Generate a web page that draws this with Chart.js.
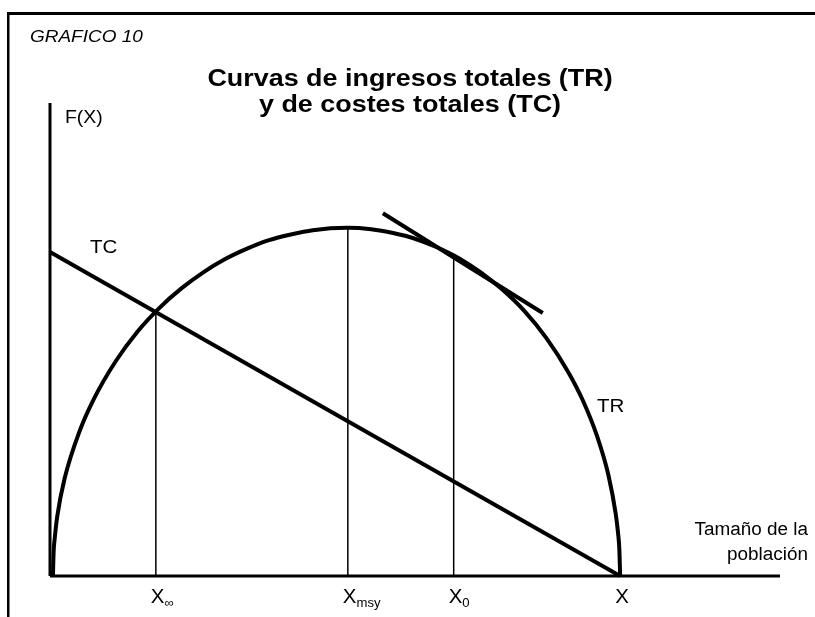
<!DOCTYPE html>
<html>
<head>
<meta charset="utf-8">
<script src="https://cdn.jsdelivr.net/npm/chart.js@4"></script>
<style>
	body { margin: 0; background: #fff; }
	canvas { display: block; }
</style>
</head>
<body>
<canvas id="grafico" width="815" height="617"></canvas>
<script>
// Curva de ingresos totales (TR)
const trX = [0.4, 0.5, 0.65, 1, 2, 4, 6, 9, 12, 15, 18, 21, 24, 27, 30, 33, 36, 40.7, 44, 47, 50, 53, 56, 59, 62, 65, 68, 71, 73, 75, 76.5, 77.5, 77.8, 78.0, 78.1];
const trY = [0, 5.2, 8.0, 12.7, 20.6, 30.4, 37.4, 45.4, 51.7, 56.7, 60.8, 64.2, 67.0, 69.2, 71.0, 72.2, 73.1, 73.6, 73.3, 72.5, 71.3, 69.5, 67.2, 64.2, 60.5, 56.0, 50.3, 43.1, 37.1, 29.3, 21.3, 13.1, 9.3, 5.4, 0];

// Costes totales (TC)
const tcX = [0, 78.1];
const tcY = [68.5, 0];

// tangente en X0
const tanX = [45.6, 67.5];
const tanY = [76.7, 55.6];

// lineas verticales y etiquetas del eje
const xMarks = [14.5, 40.8, 55.3, 78.1];
const xMarkTops = [56.2, 73.6, 67.4, 0];
const xLabels = ["X", "X", "X", "X"];
const xSubs = ["\u221e", "msy", "0", ""];

const fontFam = "'Liberation Sans', Arial, Helvetica, sans-serif";

function toPoints(xs, ys) {
	return xs.map((x, i) => ({ x: x, y: ys[i] }));
}

function stretchText(ctx, text, x, y, font, sx, align) {
	ctx.save();
	ctx.font = font;
	ctx.textBaseline = "alphabetic";
	let w = ctx.measureText(text).width * sx;
	let left = x;
	if (align == "center") left = x - w / 2;
	if (align == "right") left = x - w;
	ctx.translate(left, y);
	ctx.scale(sx, 1);
	ctx.textAlign = "left";
	ctx.fillText(text, 0, 0);
	ctx.restore();
	return w;
}

const textos = {
	id: "textos",
	beforeDraw(chart) {
		const ctx = chart.ctx;
		ctx.save();
		ctx.fillStyle = "#fff";
		ctx.fillRect(0, 0, chart.width, chart.height);
		// marco
		ctx.fillStyle = "#000";
		ctx.fillRect(7, 12, 815, 3);
		ctx.fillRect(7, 12, 2.5, 617);
		ctx.restore();
	},
	afterDraw(chart) {
		const ctx = chart.ctx;
		const xs = chart.scales.x;
		ctx.save();
		ctx.fillStyle = "#000";
		stretchText(ctx, "GRAFICO 10", 30, 42, "italic 16.5px " + fontFam, 1.15, "left");
		stretchText(ctx, "Curvas de ingresos totales (TR)", 410, 86, "bold 23px " + fontFam, 1.17, "center");
		stretchText(ctx, "y de costes totales (TC)", 410, 112, "bold 23px " + fontFam, 1.17, "center");
		stretchText(ctx, "F(X)", 65, 123, "18px " + fontFam, 1.08, "left");
		stretchText(ctx, "TC", 90, 253, "19px " + fontFam, 1.08, "left");
		stretchText(ctx, "TR", 597, 412, "19px " + fontFam, 1.08, "left");
		stretchText(ctx, "Tamaño de la", 808, 535, "18px " + fontFam, 1.05, "right");
		stretchText(ctx, "población", 808, 560, "18px " + fontFam, 1.05, "right");
		xMarks.forEach((v, i) => {
			const px = xs.getPixelForValue(v);
			const w = stretchText(ctx, xLabels[i], px - 5, 603, "19.5px " + fontFam, 1.05, "left");
			if (xSubs[i]) {
				stretchText(ctx, xSubs[i], px - 5 + w, 607, "12.5px " + fontFam, 1.05, "left");
			}
		});
		ctx.restore();
	},
};

const base = { borderColor: "#000", pointRadius: 0, fill: false, clip: false, tension: 0 };

const datasets = [
	Object.assign({}, base, { data: toPoints(trX, trY), borderWidth: 4, cubicInterpolationMode: "monotone" }),
	Object.assign({}, base, { data: toPoints(tcX, tcY), borderWidth: 4 }),
	Object.assign({}, base, { data: toPoints(tanX, tanY), borderWidth: 4, borderCapStyle: "butt" }),
	// ejes
	Object.assign({}, base, { data: [{ x: 0, y: 0 }, { x: 100, y: 0 }], borderWidth: 3 }),
	Object.assign({}, base, { data: [{ x: 0, y: 0 }, { x: 0, y: 100 }], borderWidth: 3 }),
];
xMarks.forEach((v, i) => {
	if (xMarkTops[i] > 0) {
		datasets.push(Object.assign({}, base, { data: [{ x: v, y: 0 }, { x: v, y: xMarkTops[i] }], borderWidth: 1.5 }));
	}
});

new Chart(document.getElementById("grafico"), {
	type: "line",
	data: { datasets: datasets },
	options: {
		responsive: false,
		animation: false,
		layout: { padding: { left: 50, right: 35, top: 103, bottom: 41 } },
		scales: {
			x: { type: "linear", min: 0, max: 100, display: false },
			y: { type: "linear", min: 0, max: 100, display: false },
		},
		plugins: { legend: { display: false }, tooltip: { enabled: false } },
	},
	plugins: [textos],
});
</script>
</body>
</html>
